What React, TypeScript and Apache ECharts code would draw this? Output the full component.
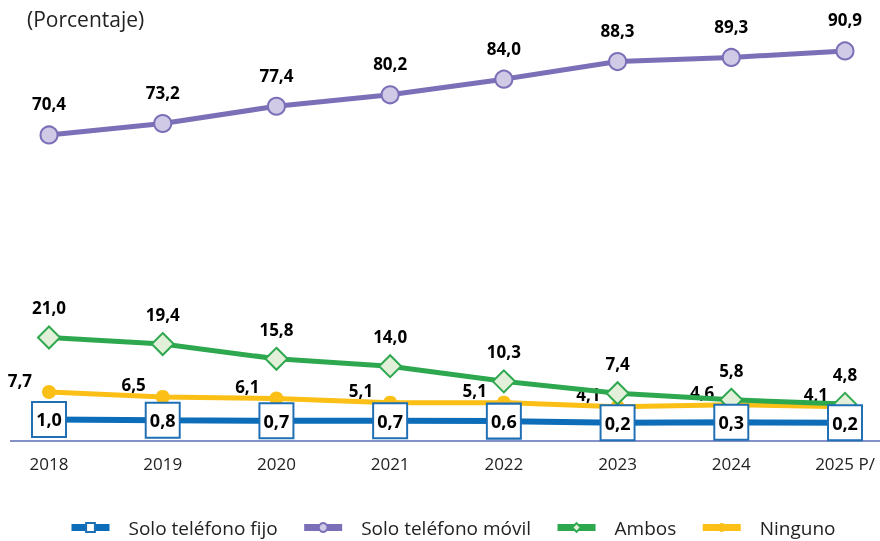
import React, { useEffect, useRef } from "react";
import * as echarts from "echarts";

const categories = ["2018", "2019", "2020", "2021", "2022", "2023", "2024", "2025 P/"];
const soloFijo = [1.0, 0.8, 0.7, 0.7, 0.6, 0.2, 0.3, 0.2];
const soloMovil = [70.4, 73.2, 77.4, 80.2, 84.0, 88.3, 89.3, 90.9];
const ambos = [21.0, 19.4, 15.8, 14.0, 10.3, 7.4, 5.8, 4.8];
const ninguno = [7.7, 6.5, 6.1, 5.1, 5.1, 4.1, 4.6, 4.1];

const FONT = "'Open Sans', sans-serif";
const fmt = (p: any) => Number(p.value).toFixed(1).replace(".", ",");

export default function App() {
  const ref = useRef<HTMLDivElement>(null);
  useEffect(() => {
    if (!ref.current) return;
    const chart = echarts.init(ref.current, null, { renderer: "svg" });
    const labelBase = {
      show: true,
      formatter: fmt,
      color: "#000",
      fontWeight: "bold" as const,
      fontSize: 17,
      fontFamily: FONT,
    };
    chart.setOption({
      animation: false,
      textStyle: { fontFamily: FONT },
      title: {
        text: "(Porcentaje)",
        left: 22,
        top: 3,
        textStyle: { fontSize: 21, fontWeight: "normal", color: "#222", fontFamily: FONT },
      },
      grid: { left: 49, right: 35, top: 46.4, bottom: 100.2 },
      xAxis: {
        type: "category",
        data: categories,
        boundaryGap: false,
        axisLine: { show: false },
        axisTick: { show: false },
        axisLabel: { color: "#222", fontSize: 17, margin: 14, fontFamily: FONT },
      },
      yAxis: {
        type: "value",
        min: -4.2,
        max: 92,
        show: false,
        splitLine: { show: false },
      },
      graphic: [
        {
          type: "line",
          shape: { x1: 10, y1: 441, x2: 880, y2: 441 },
          style: { stroke: "#5b6bb5", lineWidth: 1.5 },
        },
      ],
      legend: {
        data: [
          { name: "Solo teléfono fijo", lineStyle: { width: 7 } },
          { name: "Solo teléfono móvil", lineStyle: { width: 7 } },
          { name: "Ambos", lineStyle: { width: 7 } },
          { name: "Ninguno", lineStyle: { width: 7 } },
        ],
        top: 518,
        left: 68,
        padding: 0,
        itemWidth: 38,
        itemHeight: 11,
        itemGap: 23,
        textStyle: {
          fontSize: 19,
          color: "#222",
          fontFamily: FONT,
          padding: [0, 0, 0, 14],
        },
      },
      series: [
        {
          name: "Ninguno",
          type: "line",
          data: ninguno,
          z: 2,
          symbol: "circle",
          symbolSize: 14,
          lineStyle: { color: "#fbbf16", width: 5 },
          itemStyle: { color: "#fbbf16" },
          label: { ...labelBase, position: "left", distance: 10, offset: [0, -12] },
        },
        {
          name: "Ambos",
          type: "line",
          data: ambos,
          z: 3,
          symbol: "diamond",
          symbolSize: 22,
          lineStyle: { color: "#2ea84f", width: 5 },
          itemStyle: { color: "#e2efd9", borderColor: "#2ea84f", borderWidth: 2 },
          label: { ...labelBase, position: "top", distance: 9 },
        },
        {
          name: "Solo teléfono móvil",
          type: "line",
          data: soloMovil,
          z: 4,
          symbol: "circle",
          symbolSize: 17,
          lineStyle: { color: "#7b6fb8", width: 5 },
          itemStyle: { color: "#d0cae6", borderColor: "#7b6fb8", borderWidth: 2 },
          label: { ...labelBase, position: "top", distance: 13 },
        },
        {
          name: "Solo teléfono fijo",
          type: "line",
          data: soloFijo,
          z: 5,
          symbol: "rect",
          symbolSize: [34, 35],
          lineStyle: { color: "#0e6db8", width: 6 },
          itemStyle: { color: "#ffffff", borderColor: "#1f6fb5", borderWidth: 2 },
          label: { ...labelBase, position: "inside", fontSize: 18 },
        },
      ],
    });
    return () => chart.dispose();
  }, []);
  return (
    <div
      ref={ref}
      style={{ position: "fixed", left: 0, top: 0, width: 880, height: 541 }}
    />
  );
}
